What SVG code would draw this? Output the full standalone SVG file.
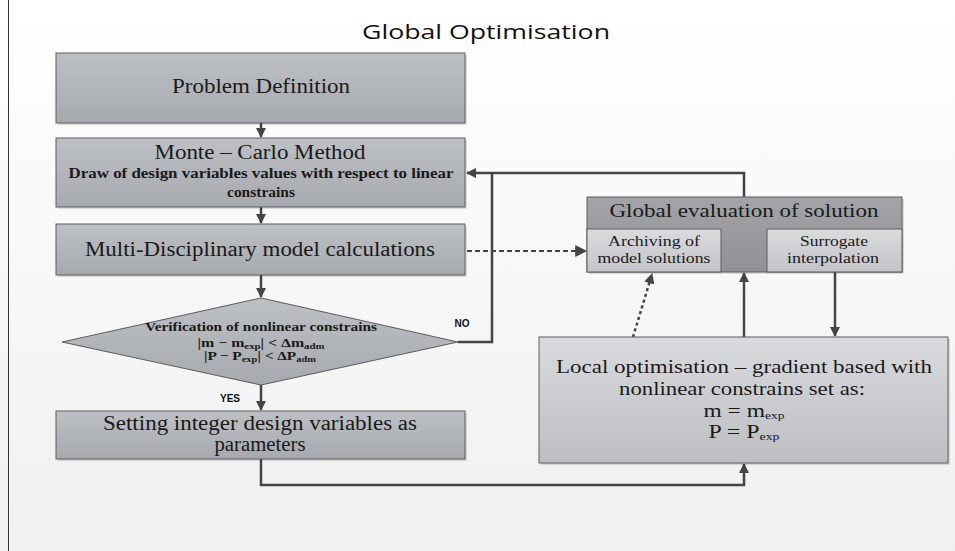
<svg xmlns="http://www.w3.org/2000/svg" width="955" height="551" viewBox="0 0 955 551">
<defs>
<linearGradient id="bg" x1="0" y1="0" x2="0" y2="1">
<stop offset="0" stop-color="#ffffff"/>
<stop offset="0.12" stop-color="#fdfdfd"/>
<stop offset="1" stop-color="#eff0f1"/>
</linearGradient>
<linearGradient id="box" x1="0" y1="0" x2="0" y2="1">
<stop offset="0" stop-color="#bdc0c4"/>
<stop offset="1" stop-color="#a6a9ae"/>
</linearGradient>
<linearGradient id="lbox" x1="0" y1="0" x2="0" y2="1">
<stop offset="0" stop-color="#d9dadd"/>
<stop offset="1" stop-color="#bcbec2"/>
</linearGradient>
<linearGradient id="sub" x1="0" y1="0" x2="0" y2="1">
<stop offset="0" stop-color="#dadbdd"/>
<stop offset="1" stop-color="#c2c4c8"/>
</linearGradient>
<linearGradient id="dark" x1="0" y1="0" x2="0" y2="1">
<stop offset="0" stop-color="#a2a4a8"/>
<stop offset="1" stop-color="#8f9195"/>
</linearGradient>
<marker id="ah" viewBox="0 0 10 10" refX="9" refY="5" markerWidth="4.2" markerHeight="4.2" orient="auto" markerUnits="strokeWidth">
<path d="M0,0 L10,5 L0,10 z" fill="#444"/>
</marker>
<marker id="ahs" viewBox="0 0 10 10" refX="9" refY="5" markerWidth="7" markerHeight="6" orient="auto" markerUnits="strokeWidth">
<path d="M0,0 L10,5 L0,10 z" fill="#444"/>
</marker>
</defs>
<style>
.b{stroke:#5a5c60;stroke-width:1}
.t{font-family:"Liberation Serif","Times New Roman",serif;fill:#1a1a1a;text-anchor:middle}
.s{font-family:"Liberation Sans",Arial,sans-serif;font-weight:bold;font-size:10px;fill:#111;text-anchor:middle}
.c{fill:none;stroke:#444;stroke-width:2.5}
.d{fill:none;stroke:#444;stroke-width:2;stroke-dasharray:5 3}
.sh{fill:#000;opacity:0.12}
</style>
<rect x="0" y="0" width="955" height="551" fill="url(#bg)"/>
<line x1="8.5" y1="0" x2="8.5" y2="551" stroke="#333" stroke-width="1"/>
<text x="486" y="39" font-family="Open Sans, sans-serif" font-size="20" fill="#111" text-anchor="middle" textLength="248" lengthAdjust="spacingAndGlyphs">Global Optimisation</text>

<g id="connectors">
<line class="c" x1="261" y1="123" x2="261" y2="137" marker-end="url(#ah)"/>
<line class="c" x1="261" y1="207" x2="261" y2="223" marker-end="url(#ah)"/>
<line class="c" x1="261" y1="275" x2="261" y2="297" marker-end="url(#ah)"/>
<line class="c" x1="261" y1="385" x2="261" y2="410" marker-end="url(#ah)"/>
<polyline class="c" points="458,342 492,342 492,173"/>
<polyline class="c" points="744,197 744,173 467,173" marker-end="url(#ah)"/>
<line class="d" x1="467" y1="251" x2="586" y2="251" marker-end="url(#ahs)"/>
<line class="c" x1="721" y1="252" x2="766" y2="252" marker-end="url(#ah)"/>
<line x1="633" y1="337" x2="652" y2="274" stroke="#444" stroke-width="2.5" stroke-dasharray="3 3" marker-end="url(#ah)"/>
<line class="c" x1="744" y1="337" x2="744" y2="273" marker-end="url(#ah)"/>
<line class="c" x1="835" y1="272" x2="835" y2="336" marker-end="url(#ah)"/>
<polyline class="c" points="261,459 261,485 744,485 744,464" marker-end="url(#ah)"/>
</g>

<g id="problem-definition">
<rect class="sh" x="58" y="55" width="409" height="70"/>
<rect class="b" x="56" y="53" width="409" height="70" fill="url(#box)"/>
<text class="t" x="261" y="93" font-size="20" textLength="178" lengthAdjust="spacingAndGlyphs">Problem Definition</text>
</g>

<g id="monte-carlo">
<rect class="sh" x="58" y="140" width="409" height="69"/>
<rect class="b" x="56" y="138" width="409" height="69" fill="url(#box)"/>
<text class="t" x="260" y="159" font-size="20" textLength="211" lengthAdjust="spacingAndGlyphs">Monte – Carlo Method</text>
<text class="t" x="261" y="178" font-size="14" font-weight="bold" textLength="385" lengthAdjust="spacingAndGlyphs">Draw of design variables values with respect to linear</text>
<text class="t" x="261" y="197" font-size="14" font-weight="bold" textLength="68" lengthAdjust="spacingAndGlyphs">constrains</text>
</g>

<g id="multi-disciplinary">
<rect class="sh" x="58" y="226" width="409" height="51"/>
<rect class="b" x="56" y="224" width="409" height="51" fill="url(#box)"/>
<text class="t" x="260" y="256" font-size="20" textLength="350" lengthAdjust="spacingAndGlyphs">Multi-Disciplinary model calculations</text>
</g>

<g id="verification">
<polygon class="b" points="261,298 458,342 261,385 62,342" fill="url(#box)"/>
<text class="t" x="261" y="331" font-size="12.5" font-weight="bold" textLength="232" lengthAdjust="spacingAndGlyphs">Verification of nonlinear constrains</text>
<text class="t" x="261" y="347" font-size="12.5" font-weight="bold" textLength="127" lengthAdjust="spacingAndGlyphs">|m − m<tspan font-size="8.5" dy="2">exp</tspan><tspan dy="-2">| &lt; Δm</tspan><tspan font-size="8.5" dy="2">adm</tspan></text>
<text class="t" x="260" y="360" font-size="12.5" font-weight="bold" textLength="112" lengthAdjust="spacingAndGlyphs">|P − P<tspan font-size="8.5" dy="2">exp</tspan><tspan dy="-2">| &lt; ΔP</tspan><tspan font-size="8.5" dy="2">adm</tspan></text>
</g>
<text class="s" x="462" y="327">NO</text>
<text class="s" x="230" y="402">YES</text>

<g id="setting-integer">
<rect class="sh" x="58" y="413" width="409" height="48"/>
<rect class="b" x="56" y="411" width="409" height="48" fill="url(#box)"/>
<text class="t" x="260" y="430" font-size="20" textLength="314" lengthAdjust="spacingAndGlyphs">Setting integer design variables as</text>
<text class="t" x="260" y="451" font-size="20" textLength="91" lengthAdjust="spacingAndGlyphs">parameters</text>
</g>

<g id="global-evaluation">
<rect class="sh" x="589" y="199" width="315" height="75"/>
<rect class="b" x="587" y="197" width="315" height="75" fill="url(#dark)"/>
<text class="t" x="744" y="217" font-size="19" textLength="269" lengthAdjust="spacingAndGlyphs">Global evaluation of solution</text>
</g>

<g id="archiving">
<rect class="b" x="587" y="229" width="134" height="43" fill="url(#sub)"/>
<text class="t" x="654" y="246" font-size="14.5" textLength="92" lengthAdjust="spacingAndGlyphs">Archiving of</text>
<text class="t" x="654" y="263" font-size="14.5" textLength="113" lengthAdjust="spacingAndGlyphs">model solutions</text>
</g>

<g id="surrogate">
<rect class="b" x="767" y="229" width="135" height="43" fill="url(#sub)"/>
<text class="t" x="834" y="246" font-size="14.5" textLength="68" lengthAdjust="spacingAndGlyphs">Surrogate</text>
<text class="t" x="833" y="263" font-size="14.5" textLength="92" lengthAdjust="spacingAndGlyphs">interpolation</text>
</g>

<g id="local-optimisation">
<rect class="sh" x="541" y="339" width="409" height="126"/>
<rect class="b" x="539" y="337" width="409" height="126" fill="url(#lbox)"/>
<text class="t" x="744" y="373" font-size="19" textLength="376" lengthAdjust="spacingAndGlyphs">Local optimisation – gradient based with</text>
<text class="t" x="742" y="395" font-size="19" textLength="246" lengthAdjust="spacingAndGlyphs">nonlinear constrains set as:</text>
<text class="t" x="744" y="417" font-size="19" textLength="81" lengthAdjust="spacingAndGlyphs">m = m<tspan font-size="11" dy="2">exp</tspan></text>
<text class="t" x="744" y="438" font-size="19" textLength="71" lengthAdjust="spacingAndGlyphs">P = P<tspan font-size="11" dy="2">exp</tspan></text>
</g>
</svg>
